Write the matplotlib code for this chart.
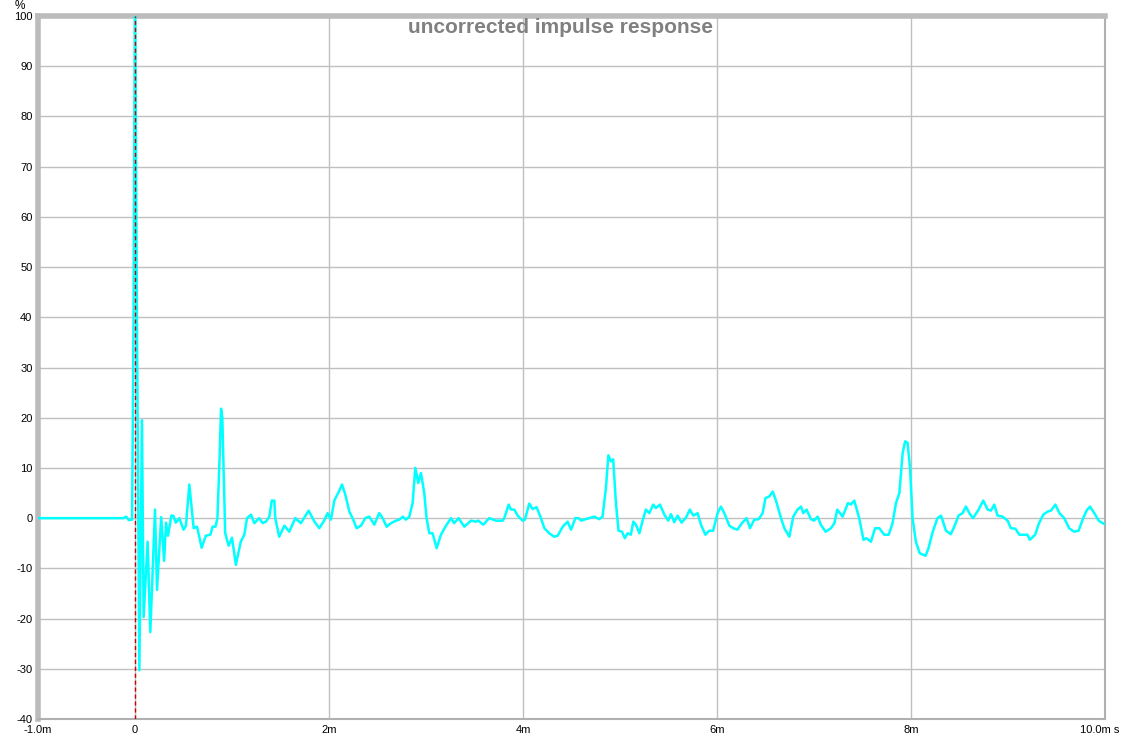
import matplotlib.pyplot as plt
from matplotlib.transforms import ScaledTranslation

plt.rcParams['font.family'] = ['Liberation Sans', 'DejaVu Sans']
plt.rcParams['axes.unicode_minus'] = False

# time in ms, amplitude in %
t_ms = [-1.0, -0.12, -0.09, -0.065, -0.03, -0.015, 0.0, 0.02, 0.045, 0.072, 0.089,
        0.13, 0.158, 0.206, 0.227, 0.27, 0.30, 0.32, 0.34, 0.375, 0.395, 0.42, 0.457,
        0.50, 0.525, 0.56, 0.605, 0.64, 0.687, 0.73, 0.777, 0.80, 0.83, 0.85, 0.872,
        0.887, 0.90, 0.93, 0.966, 1.0, 1.04, 1.09, 1.127, 1.155, 1.196, 1.23, 1.28,
        1.316, 1.35,
        1.385, 1.41, 1.436, 1.446, 1.487, 1.54, 1.59, 1.653, 1.71, 1.79, 1.85, 1.9,
        1.95, 1.986, 2.02, 2.055, 2.107, 2.134, 2.168, 2.21, 2.243, 2.285, 2.33, 2.374,
        2.415, 2.467, 2.518, 2.553, 2.594, 2.64, 2.69, 2.725, 2.76, 2.793, 2.828, 2.862,
        2.89, 2.92, 2.948, 2.982, 3.006, 3.034, 3.068, 3.11, 3.154, 3.2, 3.257, 3.29,
        3.336,
        3.395, 3.464, 3.515, 3.54, 3.59, 3.652, 3.72, 3.79, 3.807, 3.852, 3.876, 3.91,
        3.945, 3.996, 4.02, 4.064, 4.1, 4.14, 4.185, 4.22, 4.27, 4.32, 4.357, 4.41,
        4.46, 4.495, 4.54, 4.573, 4.6, 4.63, 4.683, 4.735, 4.786, 4.82, 4.855, 4.88,
        4.907, 4.93, 4.958, 4.985, 5.02, 5.05, 5.078, 5.112, 5.137, 5.164, 5.2, 5.233,
        5.267,
        5.302, 5.343, 5.37, 5.412, 5.457, 5.497, 5.525, 5.56, 5.594, 5.635, 5.68, 5.72,
        5.756, 5.8, 5.835, 5.88, 5.92, 5.96, 6.006, 6.04, 6.075, 6.127, 6.168, 6.21,
        6.257, 6.305, 6.34, 6.384, 6.43, 6.47, 6.5, 6.539, 6.574, 6.608, 6.66, 6.694,
        6.746, 6.786, 6.83, 6.866, 6.89, 6.924, 6.968, 7.0, 7.037, 7.07, 7.12, 7.175,
        7.21, 7.24,
        7.295, 7.35, 7.38, 7.415, 7.466, 7.51, 7.54, 7.587, 7.63, 7.673, 7.724, 7.77,
        7.81, 7.845, 7.88, 7.914, 7.94, 7.965, 7.99, 8.016, 8.05, 8.09, 8.15, 8.18,
        8.22, 8.272, 8.31, 8.36, 8.41, 8.446, 8.49, 8.532, 8.566, 8.607, 8.64, 8.697,
        8.745, 8.79, 8.824, 8.858, 8.893, 8.944, 8.996, 9.03, 9.076, 9.117, 9.168, 9.2,
        9.226, 9.28, 9.32, 9.364, 9.408, 9.443, 9.488, 9.53, 9.58, 9.63, 9.68, 9.728,
        9.769, 9.81, 9.845, 9.89, 9.935, 9.976, 10.0]

amp = [0, 0, 0.3, -0.4, -0.3, 40, 110, 40, -30.3, 19.5, -19.7,
       -4.7, -22.7, 1.7, -14.3, 0.2, -8.5, -0.9, -3.5, 0.5, 0.5, -0.9, 0,
       -2.3, -1.5, 6.7, -2, -1.7, -5.9, -3.5, -3.3, -1.7, -1.7, 0, 12,
       21.8, 20, -3, -5.5, -3.9, -9.3, -4.7, -3.3, 0, 0.7, -1, 0,
       -1, -0.7,
       0.3, 3.5, 3.5, 0, -3.7, -1.5, -2.7, 0, -1, 1.5, -0.7, -2,
       -0.5, 1, -0.3, 3.5, 5.5, 6.7, 4.7, 1.3, 0, -2, -1.5, 0,
       0.3, -1.3, 1, 0, -1.7, -1, -0.5, -0.3, 0.3, -0.3, 0.3, 3,
       10, 7, 9, 5, 0, -3, -3, -6, -3.3, -1.7, 0, -1,
       0,
       -1.7, -0.5, -0.7, -0.5, -1.3, 0, -0.5, -0.5, 0, 2.7, 1.7, 1.7,
       0.5, -0.5, -0.3, 2.9, 1.8, 2.2, 0, -2, -3, -3.7, -3.5, -1.7,
       -0.7, -2.3, 0, 0, -0.5, -0.3, 0, 0.3, -0.2, 0.3, 6, 12.5,
       11.3, 11.7, 3, -2.5, -2.7, -4, -3, -3.3, -0.7, -1.3, -3, -0.5,
       1.7,
       1, 2.7, 2, 2.7, 0.7, -0.5, 0.8, -0.8, 0.5, -0.9, 0.1, 1.7,
       0.5, 1, -1.3, -3.3, -2.5, -2.5, 1, 2.3, 1, -1.5, -2, -2.3,
       -1, 0, -2, -0.3, -0.2, 1, 4, 4.3, 5.3, 3.5, 0, -2,
       -3.7, 0.3, 1.7, 2.3, 1, 1.7, -0.2, -0.5, 0.3, -1.3, -2.7, -2,
       -1, 1.7,
       0.3, 3, 2.7, 3.5, 0, -4.3, -4, -4.7, -2, -2, -3.3, -3.3,
       -1, 3, 5, 13, 15.3, 15, 10, 0, -4.7, -7, -7.5, -6,
       -3, 0, 0.5, -2.5, -3.2, -1.7, 0.5, 1, 2.3, 0.8, 0, 1.7,
       3.5, 1.7, 1.5, 2.7, 0.5, 0.3, -0.5, -2, -2.1, -3.3, -3.3, -3.3,
       -4.3, -3.3, -1, 0.7, 1.3, 1.5, 2.7, 1, 0, -2, -2.7, -2.5,
       -0.3, 1.5, 2.3, 1, -0.5, -1, -1.2]

xticks = [-1, 0, 2, 4, 6, 8, 10]
xlabels = ['-1.0m', '0', '2m', '4m', '6m', '8m', '10.0m s']
yticks = list(range(-40, 101, 10))

fig = plt.figure(figsize=(11.23, 7.40), dpi=100)
ax = fig.add_axes([38 / 1123, 1 - 719 / 740, (1105 - 38) / 1123, (719 - 16) / 740])

ax.plot(t_ms, amp, color='#00ffff', lw=1.8, zorder=3)
ax.axvline(0, color='#cc0000', lw=1, ls=(0, (3, 2)), zorder=4)

ax.set_xlim(-1, 10)
ax.set_ylim(-40, 100)
ax.set_xticks(xticks)
ax.set_xticklabels(xlabels)
ax.set_yticks(yticks)
ax.grid(True, color='#c0c0c0', lw=1)
ax.set_axisbelow(True)
ax.tick_params(length=0, labelsize=8, pad=4)

# last label sits a bit left so the " s" stays inside the figure
last = ax.get_xticklabels()[-1]
last.set_transform(last.get_transform() + ScaledTranslation(-4 / 72, 0, fig.dpi_scale_trans))

for s in ['left', 'top']:
    ax.spines[s].set_color('#bcbcbc')
    ax.spines[s].set_linewidth(4)
for s in ['right', 'bottom']:
    ax.spines[s].set_color('#b0b0b0')
    ax.spines[s].set_linewidth(1.5)

ax.text(-0.012, 1.005, '%', transform=ax.transAxes, ha='right', va='bottom', fontsize=8.5)
ax.text(0.49, 0.997, 'uncorrected impulse response', transform=ax.transAxes,
        ha='center', va='top', fontsize=15, fontweight='bold', color='#808080')

fig.savefig('out.png', dpi=100)
